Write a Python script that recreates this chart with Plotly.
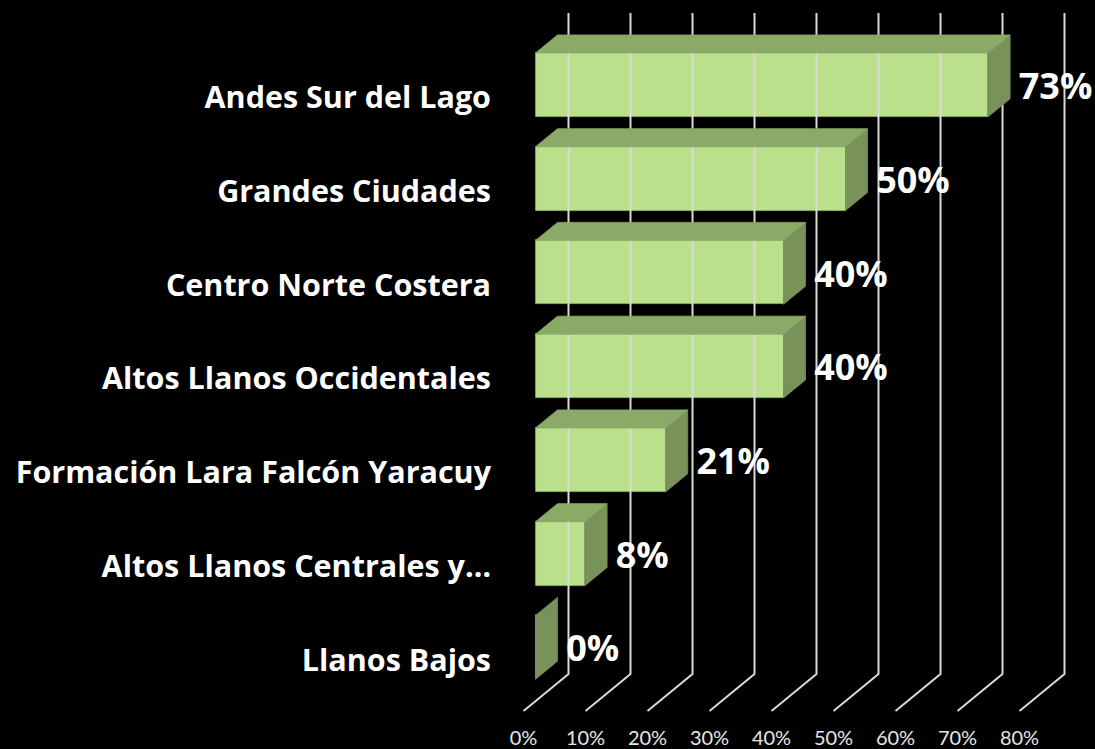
import plotly.graph_objects as go

# ---- data ----
categories = ["Andes Sur del Lago", "Grandes Ciudades", "Centro Norte Costera",
              "Altos Llanos Occidentales", "Formación Lara Falcón Yaracuy",
              "Altos Llanos Centrales y…", "Llanos Bajos"]
values = [73, 50, 40, 40, 21, 8, 0]
tick_values = [0, 10, 20, 30, 40, 50, 60, 70, 80]

# ---- layout / projection constants ----
W, H_FIG = 1095, 749
L_MARGIN, B_PLOT = 495, 720          # plot area left edge, bottom edge (px)
X0_PX, X_SCALE = 523.5, 6.2          # px of 0% on front floor edge, px per 1%
Y0_PX, Y_SCALE = 95.0, 94.0          # px of first category, px per category
WALL_DX = 45 / X_SCALE               # depth offset (front floor -> back wall)
WALL_DY = -37 / Y_SCALE
D1, D2 = 12 / 45, 34 / 45            # bar front / back depth fraction
HALF = 32 / Y_SCALE                  # half bar thickness
WALL_TOP = (13 - Y0_PX) / Y_SCALE
FLOOR_Y = (713 - Y0_PX) / Y_SCALE

FRONT = "#BBE08C"
TOP = "#8BAA68"
SIDE = "#78925A"
GRID = "#D9D9D9"


def P(v, yy, d):
    return v + d * WALL_DX, yy + d * WALL_DY


fig = go.Figure()

# back wall + floor gridlines
gx, gy = [], []
for t in tick_values:
    for pt in (P(t, WALL_TOP - WALL_DY, 1), P(t, FLOOR_Y, 1), P(t, FLOOR_Y, 0)):
        gx.append(pt[0]); gy.append(pt[1])
    gx.append(None); gy.append(None)
fig.add_trace(go.Scatter(x=gx, y=gy, mode="lines", line=dict(color=GRID, width=2),
                         hoverinfo="skip", showlegend=False))

# side faces and top faces
sx, sy, tx, ty = [], [], [], []
for i, v in enumerate(values):
    side = [P(v, i - HALF, D1), P(v, i - HALF, D2), P(v, i + HALF, D2), P(v, i + HALF, D1), P(v, i - HALF, D1)]
    top = [P(0, i - HALF, D1), P(v, i - HALF, D1), P(v, i - HALF, D2), P(0, i - HALF, D2), P(0, i - HALF, D1)]
    for p in side:
        sx.append(p[0]); sy.append(p[1])
    sx.append(None); sy.append(None)
    if v > 0:
        for p in top:
            tx.append(p[0]); ty.append(p[1])
        tx.append(None); ty.append(None)

fig.add_trace(go.Scatter(x=sx, y=sy, mode="lines", fill="toself", fillcolor=SIDE,
                         line=dict(color=SIDE, width=0.8), hoverinfo="skip", showlegend=False))
fig.add_trace(go.Scatter(x=tx, y=ty, mode="lines", fill="toself", fillcolor=TOP,
                         line=dict(color=TOP, width=0.8), hoverinfo="skip", showlegend=False))

# front faces (bars)
fig.add_trace(go.Bar(
    orientation="h",
    x=values,
    y=[i + D1 * WALL_DY for i in range(len(values))],
    base=[D1 * WALL_DX] * len(values),
    width=2 * HALF,
    marker=dict(color=FRONT, line=dict(color="#96B870", width=0.8)),
    hovertext=categories, hoverinfo="text+x",
    showlegend=False,
))

# data labels
fig.add_trace(go.Scatter(
    x=[v + D2 * WALL_DX + 1.4 for v in values],
    y=[i + D1 * WALL_DY + 0.055 for i in range(len(values))],
    mode="text",
    text=[f"{v}%" for v in values],
    textposition="middle right",
    textfont=dict(family="Open Sans", size=36, color="white", weight="bold"),
    hoverinfo="skip", showlegend=False,
))

fig.update_layout(
    width=W, height=H_FIG,
    paper_bgcolor="black", plot_bgcolor="black",
    margin=dict(l=L_MARGIN, r=0, t=0, b=H_FIG - B_PLOT),
    bargap=0,
    xaxis=dict(
        range=[(L_MARGIN - X0_PX) / X_SCALE, (W - X0_PX) / X_SCALE],
        tickvals=tick_values, ticktext=[f"{t}%" for t in tick_values],
        tickfont=dict(family="Lato", size=20, color="#E6E6E6"),
        showgrid=False, zeroline=False, showline=False, ticks="",
        ticklabelstandoff=6,
    ),
    yaxis=dict(
        range=[(B_PLOT - Y0_PX) / Y_SCALE, (0 - Y0_PX) / Y_SCALE],
        tickvals=[i + 0.03 for i in range(len(categories))], ticktext=categories,
        tickfont=dict(family="Open Sans", size=30.5, color="white", weight="bold"),
        showgrid=False, zeroline=False, showline=False, ticks="",
        ticklabelstandoff=3,
    ),
)

fig.write_html(
    "out.html",
    config={"displayModeBar": False},
    post_script="document.body.style.margin='0';document.body.style.background='black';"
                "document.documentElement.style.overflow='hidden';",
)
